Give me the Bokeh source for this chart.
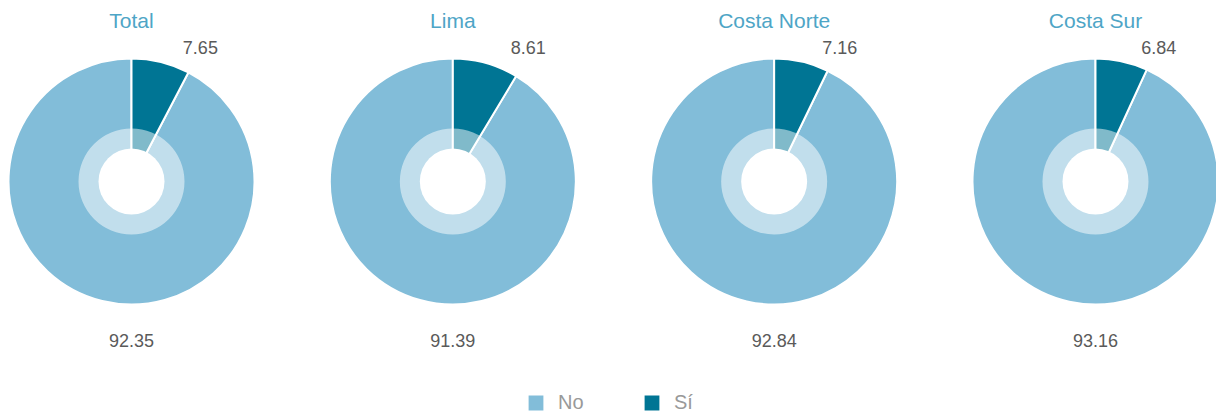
import math
from bokeh.plotting import figure
from bokeh.models import ColumnDataSource, Range1d, Legend, LegendItem
from bokeh.core.properties import value
from bokeh.embed import file_html
from bokeh.resources import INLINE

# ---- data ----
regions = ["Total", "Lima", "Costa Norte", "Costa Sur"]
si_values = [7.65, 8.61, 7.16, 6.84]
no_values = [92.35, 91.39, 92.84, 93.16]
series = ["No", "Sí"]
series_colors = ["#82bdd9", "#007594"]

# ---- layout ----
W, H = 1216, 412
R = 123
R_RING = 53
R_HOLE = 33
CY = 231
X0, DX = 131, 321.33
FONT = "Liberation Sans"

cx = [X0 + i * DX for i in range(len(regions))]
frac = [s / (s + n) for s, n in zip(si_values, no_values)]
top = math.pi / 2

src_si = ColumnDataSource(dict(
    x=cx, y=[CY] * len(cx),
    start=[top - 2 * math.pi * f for f in frac],
    end=[top] * len(cx),
))
src_no = ColumnDataSource(dict(
    x=cx, y=[CY] * len(cx),
    start=[top] * len(cx),
    end=[top - 2 * math.pi * f for f in frac],
))

p = figure(width=W, height=H, x_range=Range1d(0, W), y_range=Range1d(0, H),
           output_backend="svg", toolbar_location=None, min_border=0,
           x_axis_location=None, y_axis_location=None)
p.grid.visible = False
p.outline_line_color = None
p.background_fill_color = "white"
p.border_fill_color = "white"

r_no = p.wedge(x="x", y="y", radius=R, start_angle="start", end_angle="end",
               direction="anticlock", source=src_no,
               fill_color=series_colors[0], line_color="white", line_width=2)
r_si = p.wedge(x="x", y="y", radius=R, start_angle="start", end_angle="end",
               direction="anticlock", source=src_si,
               fill_color=series_colors[1], line_color="white", line_width=2)

# inner translucent ring and white hole
p.circle(x=cx, y=[CY] * len(cx), radius=R_RING, fill_color="white",
         fill_alpha=0.5, line_color=None)
p.circle(x=cx, y=[CY] * len(cx), radius=R_HOLE, fill_color="white",
         fill_alpha=1.0, line_color=None)

# titles
p.text(x=cx, y=[392] * len(cx), text=regions, text_align="center",
       text_baseline="middle", text_font=value(FONT), text_font_size="21px",
       text_color="#4ea5c6")

# Sí labels
si_lx = [c + R * math.sin(2 * math.pi * f) + 12 for c, f in zip(cx, frac)]
p.text(x=si_lx, y=[365] * len(cx), text=[f"{v:.2f}" for v in si_values],
       text_align="center", text_baseline="middle", text_font=value(FONT),
       text_font_size="18px", text_color="#5a5a5a")

# No labels
p.text(x=cx, y=[72] * len(cx), text=[f"{v:.2f}" for v in no_values],
       text_align="center", text_baseline="middle", text_font=value(FONT),
       text_font_size="18px", text_color="#5a5a5a")

legend = Legend(items=[LegendItem(label=series[0], renderers=[r_no]),
                       LegendItem(label=series[1], renderers=[r_si])],
                orientation="horizontal", location=(525, -2),
                padding=0, margin=0, spacing=13,
                glyph_width=21, glyph_height=21, label_standoff=12,
                label_width=70, label_height=21,
                label_text_font=FONT, label_text_font_size="20px",
                label_text_color="#999999",
                border_line_alpha=0, background_fill_alpha=0)
p.add_layout(legend, "center")

open("out.html", "w").write(file_html(p, INLINE))
